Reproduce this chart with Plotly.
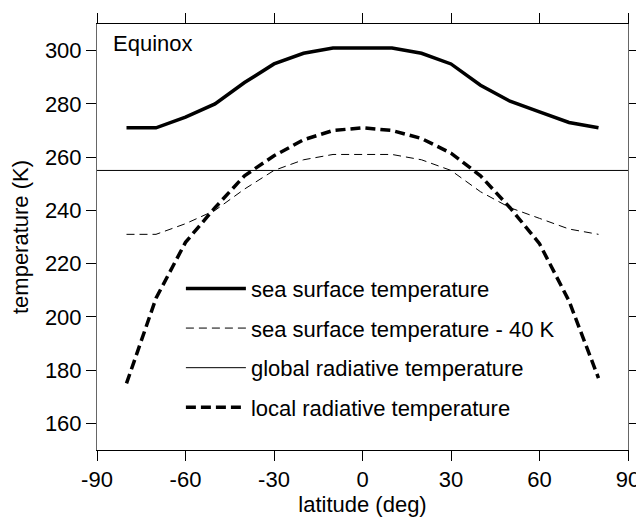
import plotly.graph_objects as go

# ---- data ----
latitude = [-80, -70, -60, -50, -40, -30, -20, -10, 0, 10, 20, 30, 40, 50, 60, 70, 80]
sea_surface_temp = [271, 271, 275, 280, 288, 295, 299, 301, 301, 301, 299, 295, 287, 281, 277, 273, 271]
sea_surface_minus_40 = [231, 231, 235, 240, 248, 255, 259, 261, 261, 261, 259, 255, 247, 241, 237, 233, 231]
local_radiative_temp = [175, 207, 228, 241, 253, 260.5, 266.5, 270, 271, 270, 267, 261.5, 253, 241, 227.5, 206, 177]
global_radiative_temp = 255
lat_range = [-90, 90]
temp_range = [150, 310]
x_ticks = [-90, -60, -30, 0, 30, 60, 90]
x_tick_labels = ["-90", "-60", "-30", "0", "30", "60", "90"]
y_ticks = [160, 180, 200, 220, 240, 260, 280, 300]

FONT = "Liberation Sans, Arial, sans-serif"

fig = go.Figure()
fig.add_trace(go.Scatter(x=latitude, y=sea_surface_temp, mode="lines",
                         name="sea surface temperature", legendgroup="a",
                         line=dict(color="black", width=3.5)))
fig.add_trace(go.Scatter(x=latitude, y=sea_surface_minus_40, mode="lines",
                         name="sea surface temperature - 40 K", legendgroup="b",
                         line=dict(color="black", width=1, dash="8px,5px")))
fig.add_trace(go.Scatter(x=lat_range, y=[global_radiative_temp] * 2, mode="lines",
                         name="global radiative temperature", legendgroup="c",
                         line=dict(color="black", width=1)))
fig.add_trace(go.Scatter(x=latitude, y=local_radiative_temp, mode="lines",
                         name="local radiative temperature", legendgroup="d",
                         line=dict(color="black", width=3.5, dash="10px,5px")))

# the page body adds an 8px margin, so the figure is 8px smaller than the window
fig.update_layout(
    width=636, height=515,
    margin=dict(l=89, r=16, t=16, b=73, autoexpand=False),
    paper_bgcolor="white", plot_bgcolor="white",
    font=dict(family=FONT, size=22, color="black"),
    showlegend=True,
    legend=dict(x=0.158, y=0.428, xanchor="left", yanchor="top",
                bgcolor="rgba(0,0,0,0)", borderwidth=0,
                traceorder="grouped", tracegroupgap=8, itemwidth=60,
                font=dict(family=FONT, size=22, color="black")),
    annotations=[dict(text="Equinox", xref="paper", yref="paper", x=0.027, y=0.955,
                      xanchor="left", yanchor="middle", showarrow=False,
                      font=dict(family=FONT, size=22, color="black"))],
)
fig.update_xaxes(range=lat_range, tickvals=x_ticks, ticktext=x_tick_labels,
                 ticks="outside", ticklen=10, automargin=False,
                 tickcolor="black", tickwidth=1, showline=True, linecolor="black",
                 linewidth=1, mirror="ticks", showgrid=False, zeroline=False,
                 title=dict(text="latitude (deg)", standoff=4,
                            font=dict(family=FONT, size=22, color="black")))
fig.update_yaxes(range=temp_range, tickvals=y_ticks, ticks="outside", ticklen=10,
                 automargin=False,
                 tickcolor="black", tickwidth=1, showline=True, linecolor="#666666",
                 linewidth=1, mirror="ticks", showgrid=False, zeroline=False,
                 title=dict(text="temperature (K)", standoff=17,
                            font=dict(family=FONT, size=22, color="black")))

fig.write_html("out.html")
